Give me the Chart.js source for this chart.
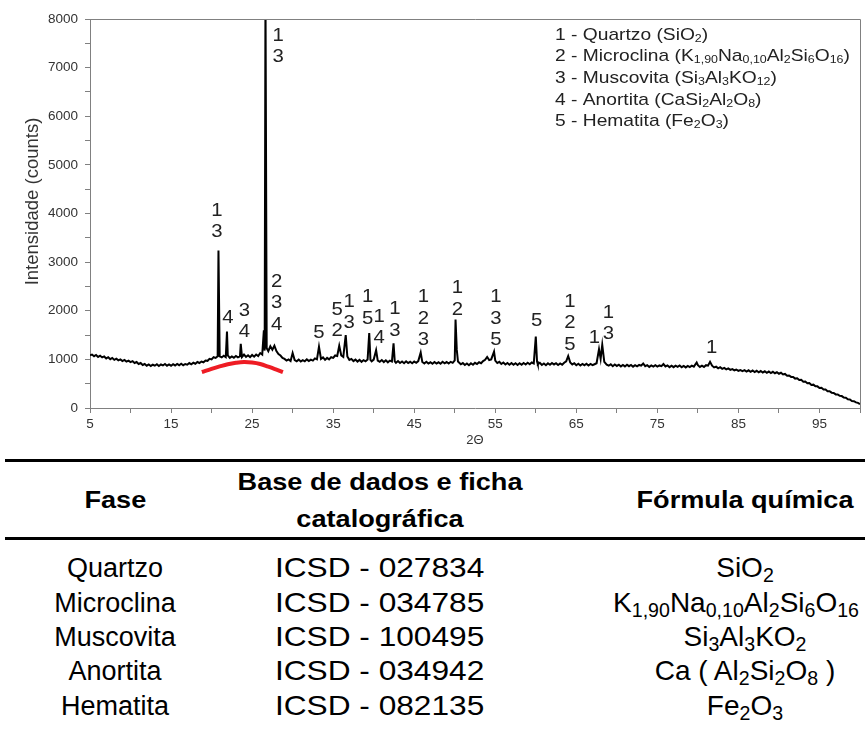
<!DOCTYPE html>
<html>
<head>
<meta charset="utf-8">
<script src="https://cdn.jsdelivr.net/npm/chart.js@4.4.1/dist/chart.umd.min.js"></script>
<style>
  html, body { margin: 0; padding: 0; background: #fff; }
  body { width: 865px; height: 747px; position: relative; overflow: hidden; font-family: "Liberation Sans", Arial, sans-serif; }
  #wrap { position: absolute; left: 0; top: 0; width: 865px; height: 450px; }
  table { position: absolute; left: 5px; top: 459px; width: 860px; border-collapse: collapse; table-layout: fixed; color: #000; }
  thead tr { border-top: 3px solid #000; border-bottom: 3px solid #000; }
  th { font-weight: bold; font-size: 24px; height: 75px; padding: 0; line-height: 37px; text-align: center; overflow: visible; }
  td { font-size: 28px; height: 34.4px; padding: 0; line-height: 34px; text-align: center; overflow: visible; }
  td.c1 { font-size: 27px; }
  tbody tr:first-child td { padding-top: 11px; }
  .c3 { padding-left: 90px; }
  .sx { display: inline-block; transform: scaleX(1.13); transform-origin: center; white-space: nowrap; }
  .c1 .sx, .sx.f { transform: none; }
  sub { font-size: 70%; vertical-align: -0.25em; line-height: 0; }
</style>
</head>
<body>
<div id="wrap"><canvas id="c" width="865" height="450"></canvas></div>
<table id="tbl">
  <colgroup><col style="width:220px"><col style="width:310px"><col style="width:330px"></colgroup>
  <thead><tr id="hdr"></tr></thead>
  <tbody id="tb"></tbody>
</table>
<script>
// ---------- DATA ----------
const twoTheta = [
  5.00,5.25,5.50,5.75,6.00,6.25,6.50,6.75,7.00,7.25,
  7.50,7.75,8.00,8.25,8.50,8.75,9.00,9.25,9.50,9.75,
  10.00,10.25,10.50,10.75,11.00,11.25,11.50,11.75,12.00,12.25,
  12.50,12.75,13.00,13.25,13.50,13.75,14.00,14.25,14.50,14.75,
  15.00,15.25,15.50,15.75,16.00,16.25,16.50,16.75,17.00,17.25,
  17.50,17.75,18.00,18.25,18.50,18.75,19.00,19.25,19.50,19.75,
  20.00,20.25,20.50,20.75,20.85,21.00,21.25,21.50,21.75,21.90,
  22.00,22.25,22.50,22.75,23.00,23.25,23.50,23.60,23.75,24.00,
  24.25,24.50,24.75,25.00,25.25,25.50,25.75,26.00,26.25,26.45,
  26.55,26.65,26.80,27.00,27.25,27.50,27.75,28.00,28.25,28.50,
  28.75,29.00,29.25,29.50,29.75,30.00,30.25,30.50,30.75,31.00,
  31.25,31.50,31.75,32.00,32.25,32.50,32.75,33.00,33.25,33.50,
  33.75,34.00,34.25,34.50,34.75,35.00,35.25,35.50,35.75,36.00,
  36.25,36.55,36.75,37.00,37.25,37.50,37.75,38.00,38.25,38.50,
  38.75,39.00,39.25,39.45,39.60,39.75,40.00,40.30,40.50,40.75,
  41.00,41.25,41.50,41.75,42.00,42.25,42.45,42.60,42.75,43.00,
  43.25,43.50,43.75,44.00,44.25,44.50,44.75,45.00,45.25,45.50,
  45.80,46.00,46.25,46.50,46.75,47.00,47.25,47.50,47.75,48.00,
  48.25,48.50,48.75,49.00,49.25,49.50,49.75,50.00,50.10,50.25,
  50.40,50.75,51.00,51.25,51.50,51.75,52.00,52.25,52.50,52.75,
  53.00,53.25,53.50,53.75,54.00,54.25,54.50,54.85,55.00,55.25,
  55.50,55.75,56.00,56.25,56.50,56.75,57.00,57.25,57.50,57.75,
  58.00,58.25,58.50,58.75,59.00,59.25,59.50,59.75,60.00,60.15,
  60.25,60.50,60.75,61.00,61.25,61.50,61.75,62.00,62.25,62.50,
  62.75,63.00,63.25,63.50,63.75,64.00,64.25,64.50,64.75,65.00,
  65.25,65.50,65.75,66.00,66.25,66.50,66.75,67.00,67.25,67.50,
  67.80,68.00,68.20,68.45,68.75,69.00,69.25,69.50,69.75,70.00,
  70.25,70.50,70.75,71.00,71.25,71.50,71.75,72.00,72.25,72.50,
  72.75,73.00,73.25,73.50,73.75,74.00,74.25,74.50,74.75,75.00,
  75.25,75.50,75.75,76.00,76.25,76.50,76.75,77.00,77.25,77.50,
  77.75,78.00,78.25,78.50,78.75,79.00,79.25,79.50,79.85,80.00,
  80.25,80.50,80.75,81.00,81.25,81.50,81.75,82.00,82.25,82.50,
  82.75,83.00,83.25,83.50,83.75,84.00,84.25,84.50,84.75,85.00,
  85.25,85.50,85.75,86.00,86.25,86.50,86.75,87.00,87.25,87.50,
  87.75,88.00,88.25,88.50,88.75,89.00,89.25,89.50,89.75,90.00,
  90.25,90.50,90.75,91.00,91.25,91.50,91.75,92.00,92.25,92.50,
  92.75,93.00,93.25,93.50,93.75,94.00,94.25,94.50,94.75,95.00,
  95.25,95.50,95.75,96.00,96.25,96.50,96.75,97.00,97.25,97.50,
  97.75,98.00,98.25,98.50,98.75,99.00,99.25,99.50,99.75,100.00
];
const counts = [
  1085,1100,1065,1090,1050,1075,1040,1060,1020,1045,
  1005,1030,990,1015,980,1000,965,990,955,975,
  945,965,925,945,905,925,885,905,870,895,
  865,890,870,900,865,895,875,905,870,895,
  870,900,875,905,880,910,880,905,890,925,
  900,930,910,945,925,955,940,975,970,1010,
  1000,1045,1030,1065,3240,1060,1040,1075,1045,1570,
  1080,1030,1060,1035,1070,1040,1060,1320,1050,1100,
  1050,1085,1045,1090,1055,1100,1070,1130,1100,1600,
  1180,8600,1230,1170,1270,1200,1280,1170,1110,1080,
  1030,1010,975,1000,965,1130,985,960,995,955,
  985,960,1000,965,995,975,1020,1000,1260,1010,
  1040,990,1030,1000,1045,1030,1080,1070,1280,1080,
  1050,1500,1060,990,1010,965,995,955,990,950,
  985,960,995,1540,990,960,995,1190,975,950,
  985,945,980,940,975,955,1330,960,930,965,
  925,955,920,960,925,950,920,955,930,965,
  1140,945,915,950,915,940,910,945,915,940,
  910,950,920,945,915,950,930,980,1820,1200,
  955,900,925,885,915,880,920,890,930,905,
  940,920,965,990,1050,985,1000,1160,975,925,
  950,905,935,895,925,890,925,890,920,885,
  920,890,925,895,930,900,935,915,1470,960,
  900,930,885,915,880,920,890,925,895,920,
  885,915,890,930,960,1070,935,895,920,880,
  910,875,905,880,910,875,905,880,900,920,
  1210,1010,1300,950,890,870,900,860,895,865,
  890,855,885,855,890,860,885,850,880,855,
  885,870,915,860,880,845,875,850,880,850,
  875,860,905,855,875,840,870,840,870,845,
  875,840,865,835,865,840,870,850,935,880,
  845,870,845,880,870,950,870,835,850,815,
  840,805,825,795,815,785,800,775,790,765,
  780,760,780,750,775,745,770,740,765,735,
  760,730,755,725,750,720,745,715,735,705,
  725,690,700,665,670,640,640,605,610,575,
  580,540,545,510,515,475,480,445,445,410,
  415,380,380,345,345,315,310,280,280,250,
  245,215,210,180,175,145,140,115,105,80
];

const haloTheta = [18.8,20,21,22,23,24,25,26,27,28,28.8];
const haloCounts = [740,805,855,900,930,945,935,905,850,790,740];

const labelTheta  = [28.2,20.67,22.0,24.04,28.03,33.25,35.5,36.96,39.26,40.66,42.63,46.13,50.32,55.09,60.1,64.22,67.22,68.95,81.7];
const labelCounts = [7654,4053,1845,2002,2599,1550,2016,2187,2277,1879,2030,2277,2463,2277,1790,2187,1434,1961,1241];
const labelText   = ["1\n3","1\n3","4","3\n4","2\n3\n4","5","5\n2","1\n3","1\n5","1\n4","1\n3","1\n2\n3","1\n2","1\n3\n5","5","1\n2\n5","1","1\n3","1"];

const legendLines = [
  "1 - Quartzo (SiO_{2})",
  "2 - Microclina (K_{1,90}Na_{0,10}Al_{2}Si_{6}O_{16})",
  "3 - Muscovita (Si_{3}Al_{3}KO_{12})",
  "4 - Anortita (CaSi_{2}Al_{2}O_{8})",
  "5 - Hematita (Fe_{2}O_{3})"
];

const xTickLabels = [5,15,25,35,45,55,65,75,85,95];
const yTickLabels = [0,1000,2000,3000,4000,5000,6000,7000,8000];
const xTitle = '2Θ';
const yTitle = 'Intensidade (counts)';

const tableHeader = ["Fase", "Base de dados e ficha<br>catalográfica", "Fórmula química"];
const tablePhase  = ["Quartzo","Microclina","Muscovita","Anortita","Hematita"];
const tableICSD   = ["ICSD - 027834","ICSD - 034785","ICSD - 100495","ICSD - 034942","ICSD - 082135"];
const tableFormula = ["SiO_{2}","K_{1,90}Na_{0,10}Al_{2}Si_{6}O_{16}","Si_{3}Al_{3}KO_{2}","Ca ( Al_{2}Si_{2}O_{8} )","Fe_{2}O_{3}"];

// ---------- helpers ----------
function parseRuns(s) {
  const runs = []; const re = /_\{([^}]*)\}/g; let last = 0, m;
  while ((m = re.exec(s))) {
    if (m.index > last) runs.push({t: s.slice(last, m.index), sub: false});
    runs.push({t: m[1], sub: true}); last = re.lastIndex;
  }
  if (last < s.length) runs.push({t: s.slice(last), sub: false});
  return runs;
}
function toHTML(s) {
  return parseRuns(s).map(r => r.sub ? '<sub>' + r.t + '</sub>' : r.t).join('');
}

// ---------- table ----------
document.getElementById('hdr').innerHTML = tableHeader.map((h, i) =>
  '<th' + (i === 2 ? ' class="c3"' : '') + '><span class="sx">' + h + '</span></th>').join('');
document.getElementById('tb').innerHTML = tablePhase.map((p, i) =>
  '<tr><td class="c1"><span class="sx">' + p + '</span></td><td><span class="sx">' + tableICSD[i] +
  '</span></td><td class="c3"><span class="sx f">' + toHTML(tableFormula[i]) + '</span></td></tr>').join('');
document.querySelectorAll('.sx.f').forEach(el => {
  const r = el.getBoundingClientRect();
  if (r.right > 862) el.style.marginLeft = '-' + (2 * (r.right - 862)) + 'px';
});

// ---------- chart ----------
const FONT = '"Liberation Sans", Arial, sans-serif';
const STRETCH = 1.13;

const framePlugin = {
  id: 'frame',
  afterDatasetsDraw(chart) {
    const {ctx, chartArea: a} = chart;
    ctx.save();
    ctx.strokeStyle = '#808080'; ctx.lineWidth = 1;
    ctx.beginPath();
    ctx.moveTo(a.left, a.top + 0.5); ctx.lineTo(a.right + 0.5, a.top + 0.5); ctx.lineTo(a.right + 0.5, a.bottom);
    ctx.stroke();
    // y axis title (drawn by hand so it can sit where the original sits)
    ctx.save();
    ctx.translate(33, (a.top + a.bottom) / 2 - 12);
    ctx.rotate(-Math.PI / 2);
    ctx.fillStyle = '#333'; ctx.font = '18.5px ' + FONT;
    ctx.textAlign = 'center'; ctx.textBaseline = 'middle';
    ctx.fillText(yTitle, 0, 0);
    ctx.restore();
    ctx.restore();
  }
};

const labelPlugin = {
  id: 'peakLabels',
  afterDatasetsDraw(chart) {
    const {ctx} = chart; const xs = chart.scales.x, ys = chart.scales.y;
    ctx.save();
    ctx.fillStyle = '#222';
    ctx.font = '18px ' + FONT;
    ctx.textAlign = 'center'; ctx.textBaseline = 'middle';
    labelText.forEach((txt, i) => {
      const px = xs.getPixelForValue(labelTheta[i]);
      const py = ys.getPixelForValue(labelCounts[i]);
      txt.split('\n').forEach((ln, k) => {
        ctx.save(); ctx.translate(px, py + k * 21.5); ctx.scale(STRETCH, 1);
        ctx.fillText(ln, 0, 0); ctx.restore();
      });
    });
    const lx = 555, ly0 = 35, lh = 21.7;
    legendLines.forEach((s, k) => {
      ctx.save(); ctx.translate(lx, ly0 + k * lh); ctx.scale(STRETCH, 1);
      ctx.textAlign = 'left'; ctx.textBaseline = 'middle';
      let x = 0;
      parseRuns(s).forEach(r => {
        ctx.font = (r.sub ? '11px ' : '17px ') + FONT;
        ctx.fillText(r.t, x, r.sub ? 3.5 : 0);
        x += ctx.measureText(r.t).width;
      });
      ctx.restore();
    });
    ctx.restore();
  }
};

new Chart(document.getElementById('c'), {
  type: 'line',
  data: {
    datasets: [
      {
        label: 'Halo',
        data: haloTheta.map((t, i) => ({x: t, y: haloCounts[i]})),
        borderColor: '#ee1c24', borderWidth: 4, pointRadius: 0, tension: 0.4, fill: false
      },
      {
        label: 'DRX',
        data: twoTheta.map((t, i) => ({x: t, y: counts[i]})),
        borderColor: '#000', borderWidth: 2, pointRadius: 0, tension: 0, fill: false
      }
    ]
  },
  options: {
    responsive: false, animation: false, devicePixelRatio: 1,
    layout: { padding: { left: 0, top: 19, right: 5, bottom: 0 } },
    plugins: { legend: { display: false }, tooltip: { enabled: false } },
    scales: {
      x: {
        type: 'linear', min: 5, max: 100,
        afterFit(s) { s.height = 42; },
        border: { color: '#808080', width: 1 },
        grid: { drawOnChartArea: false, drawTicks: true, tickLength: 5, color: '#808080' },
        ticks: {
          stepSize: 5, autoSkip: false, maxRotation: 0, padding: 3,
          color: '#333', font: { family: FONT, size: 13.5 },
          callback: v => xTickLabels.includes(v) ? String(v) : ''
        },
        title: { display: true, text: xTitle, color: '#333', font: { family: FONT, size: 13 }, padding: { top: 0, bottom: 2 } }
      },
      y: {
        min: 0, max: 8000,
        afterFit(s) { s.width = 90; },
        border: { color: '#808080', width: 1 },
        grid: { drawOnChartArea: false, drawTicks: true, tickLength: 5, color: '#808080' },
        ticks: {
          stepSize: 500, autoSkip: false, padding: 7,
          color: '#333', font: { family: FONT, size: 13.5 },
          callback: v => yTickLabels.includes(v) ? String(v) : ''
        },
        title: { display: false }
      }
    }
  },
  plugins: [framePlugin, labelPlugin]
});
</script>
</body>
</html>
